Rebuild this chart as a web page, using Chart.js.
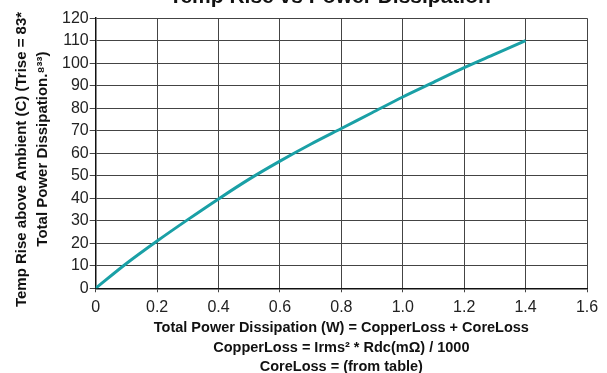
<!DOCTYPE html>
<html>
<head>
<meta charset="utf-8">
<script src="https://cdn.jsdelivr.net/npm/chart.js@4"></script>
<style>
html,body{margin:0;padding:0;background:#fff;overflow:hidden;}
#wrap{position:absolute;left:0;top:-16px;width:607px;height:400px;}
</style>
</head>
<body>
<div id="wrap"><canvas id="c" width="607" height="400"></canvas></div>
<script>
const powerW = [0, 0.1, 0.2, 0.3, 0.4, 0.5, 0.6, 0.7, 0.8, 0.9, 1.0, 1.1, 1.2, 1.3, 1.4];
const tempRise = [0, 11, 21, 30.5, 39.7, 48.5, 56.5, 64, 71, 78, 85, 91.5, 98, 104, 110];
const xTicks = [0, 0.2, 0.4, 0.6, 0.8, 1.0, 1.2, 1.4, 1.6];
const yTicks = [0, 10, 20, 30, 40, 50, 60, 70, 80, 90, 100, 110, 120];
const titleText = 'Temp Rise vs Power Dissipation';
const yTitle = ['Temp Rise above Ambient (C) (Trise = 83*   ', '  Total Power Dissipation.\u2078\u00b3\u00b3)'];
const xTitle = ['Total Power Dissipation (W) = CopperLoss + CoreLoss', 'CopperLoss = Irms\u00b2 * Rdc(m\u03a9) / 1000', 'CoreLoss = (from table)'];

const pts = powerW.map((x, i) => ({x: x, y: tempRise[i]}));
const FONT = 'Arial, "Liberation Sans", sans-serif';

const titleShift = {
  id: 'titleShift',
  afterLayout(chart) {
    const t = chart.titleBlock;
    if (t) { t.left = 53; t.right = 607; t.width = t.right - t.left; }
  }
};

new Chart(document.getElementById('c'), {
  type: 'scatter',
  plugins: [titleShift],
  data: {
    datasets: [{
      data: pts,
      showLine: true,
      borderColor: '#1aa0a6',
      borderWidth: 3,
      pointRadius: 0,
      tension: 0.3,
      fill: false
    }]
  },
  options: {
    responsive: false,
    animation: false,
    devicePixelRatio: 1,
    layout: {padding: {left: 11, right: 20, top: 0, bottom: 7}},
    plugins: {
      legend: {display: false},
      tooltip: {enabled: false},
      title: {
        display: true,
        text: titleText,
        color: '#111',
        font: {family: FONT, size: 21, weight: 'bold'},
        padding: {top: 1, bottom: 8}
      }
    },
    scales: {
      x: {
        type: 'linear',
        min: 0, max: 1.6,
        afterBuildTicks: (ax) => { ax.ticks = xTicks.map(v => ({value: v})); },
        ticks: {
          color: '#222',
          font: {family: FONT, size: 16, lineHeight: 1.0},
          padding: 7,
          autoSkip: false,
          callback: (v) => (v === 0 ? '0' : v.toFixed(1)),
          maxRotation: 0
        },
        grid: {color: '#444', lineWidth: 1, tickLength: 4, drawTicks: true},
        border: {color: '#111', width: 1.5},
        title: {
          display: true,
          text: xTitle,
          color: '#111',
          font: {family: FONT, size: 14.5, weight: 'bold', lineHeight: 1.35},
          padding: {top: -4, bottom: 0}
        }
      },
      y: {
        type: 'linear',
        min: 0, max: 120,
        afterBuildTicks: (ax) => { ax.ticks = yTicks.map(v => ({value: v})); },
        ticks: {
          color: '#222',
          font: {family: FONT, size: 16, lineHeight: 1.0},
          padding: 1,
          autoSkip: false
        },
        grid: {color: '#444', lineWidth: 1, tickLength: 6, drawTicks: true},
        border: {color: '#111', width: 1.5},
        title: {
          display: true,
          text: yTitle,
          color: '#111',
          font: {family: FONT, size: 15, weight: 'bold', lineHeight: 1.4},
          padding: {top: 0, bottom: 8}
        }
      }
    }
  }
});
</script>
</body>
</html>
